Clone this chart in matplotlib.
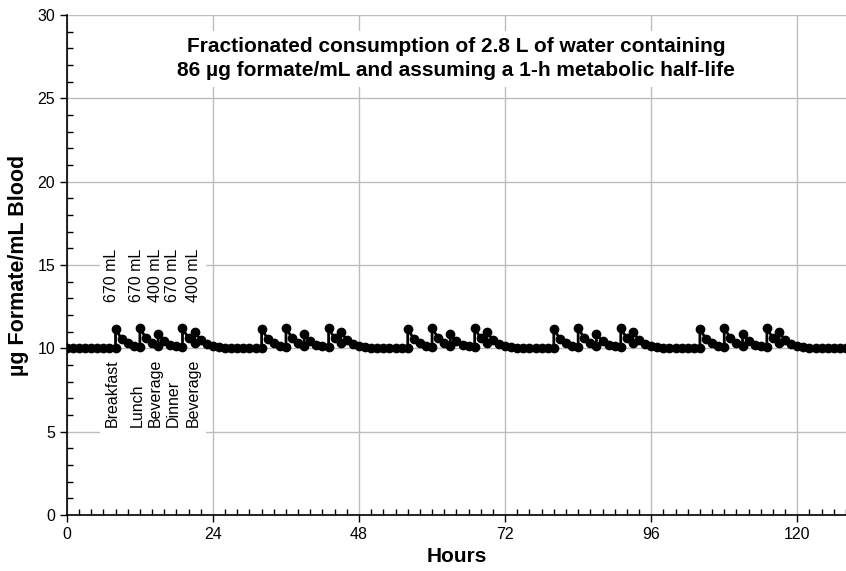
import numpy as np
import matplotlib.pyplot as plt
from matplotlib.ticker import MultipleLocator
from matplotlib.patches import Rectangle

plt.rcParams['font.family'] = ['Liberation Sans', 'DejaVu Sans']

# Hourly blood formate over one day (intake hours appear twice: before/after the drink)
day_hours = [0, 1, 2, 3, 4, 5, 6, 7, 8, 8, 9, 10, 11, 12, 12, 13, 14, 15, 15,
             16, 17, 18, 19, 19, 20, 21, 21, 22, 23]
day_vals = [10.12, 10.06, 10.03, 10.02, 10.0, 10.0, 10.0, 10.0, 10.0, 11.15,
            10.57, 10.29, 10.14, 10.07, 11.22, 10.61, 10.30, 10.15, 10.84,
            10.42, 10.21, 10.11, 10.05, 11.20, 10.60, 10.30, 10.99, 10.49, 10.25]
first_morning = [10.0, 10.0, 10.0, 10.0]   # day 1 starts at baseline
day_starts = [0, 24, 48, 72, 96, 120]
last_hour = 128

meal_x = [7.4, 11.5, 14.5, 17.4, 20.8]
meal_names = ['Breakfast', 'Lunch', 'Beverage', 'Dinner', 'Beverage']
meal_volumes = ['670 mL', '670 mL', '400 mL', '670 mL', '400 mL']

hours, conc = [], []
for i, d in enumerate(day_starts):
    vals = list(day_vals)
    if i == 0:
        vals[:4] = first_morning
    for h, v in zip(day_hours, vals):
        t = d + h
        if t > last_hour or (t == last_hour and len(hours) and hours[-1] == t):
            continue
        hours.append(t)
        conc.append(v)

fig = plt.figure(figsize=(8.46, 5.71), dpi=100)
ax = fig.add_axes([0.079, 0.098, 0.921, 0.876])

ax.plot(hours, conc, '-o', color='black', linewidth=2, markersize=6, zorder=3)

ax.set_xlim(0, last_hour)
ax.set_ylim(0, 30)
ax.xaxis.set_major_locator(MultipleLocator(24))
ax.xaxis.set_minor_locator(MultipleLocator(2))
ax.yaxis.set_major_locator(MultipleLocator(5))
ax.yaxis.set_minor_locator(MultipleLocator(1))
ax.tick_params(which='major', direction='out', length=5, width=1, labelsize=11.5)
ax.tick_params(which='minor', direction='in', length=4, width=1)
ax.spines['top'].set_visible(False)
ax.spines['right'].set_visible(False)
ax.spines['left'].set_linewidth(1.2)
ax.spines['bottom'].set_linewidth(1.2)
ax.set_axisbelow(True)
ax.grid(True, which='major', color='#bdbdbd', linewidth=1)

ax.set_xlabel('Hours', fontsize=15, fontweight='bold', labelpad=4)
ax.set_ylabel('µg Formate/mL Blood', fontsize=15.5, fontweight='bold', labelpad=6)

# white patch behind the meal labels
ax.add_patch(Rectangle((5.5, 12.4), 17.3, 3.9, facecolor='white', edgecolor='none', zorder=1.5))
ax.add_patch(Rectangle((5.5, 4.4), 17.3, 5.2, facecolor='white', edgecolor='none', zorder=1.5))
for x, name, vol in zip(meal_x, meal_names, meal_volumes):
    ax.text(x, 12.8, vol, rotation=90, ha='center', va='bottom', fontsize=11.5, zorder=4)
    ax.text(x, 5.3, name, rotation=90, ha='center', va='bottom', fontsize=11.5, zorder=4)

ax.text(0.5, 0.912, 'Fractionated consumption of 2.8 L of water containing\n'
        '86 µg formate/mL and assuming a 1-h metabolic half-life',
        transform=ax.transAxes, ha='center', va='center', fontsize=15, fontweight='bold',
        linespacing=1.35, zorder=4,
        bbox=dict(boxstyle='square,pad=0.3', facecolor='white', edgecolor='none'))

fig.savefig('out.png', dpi=100)
